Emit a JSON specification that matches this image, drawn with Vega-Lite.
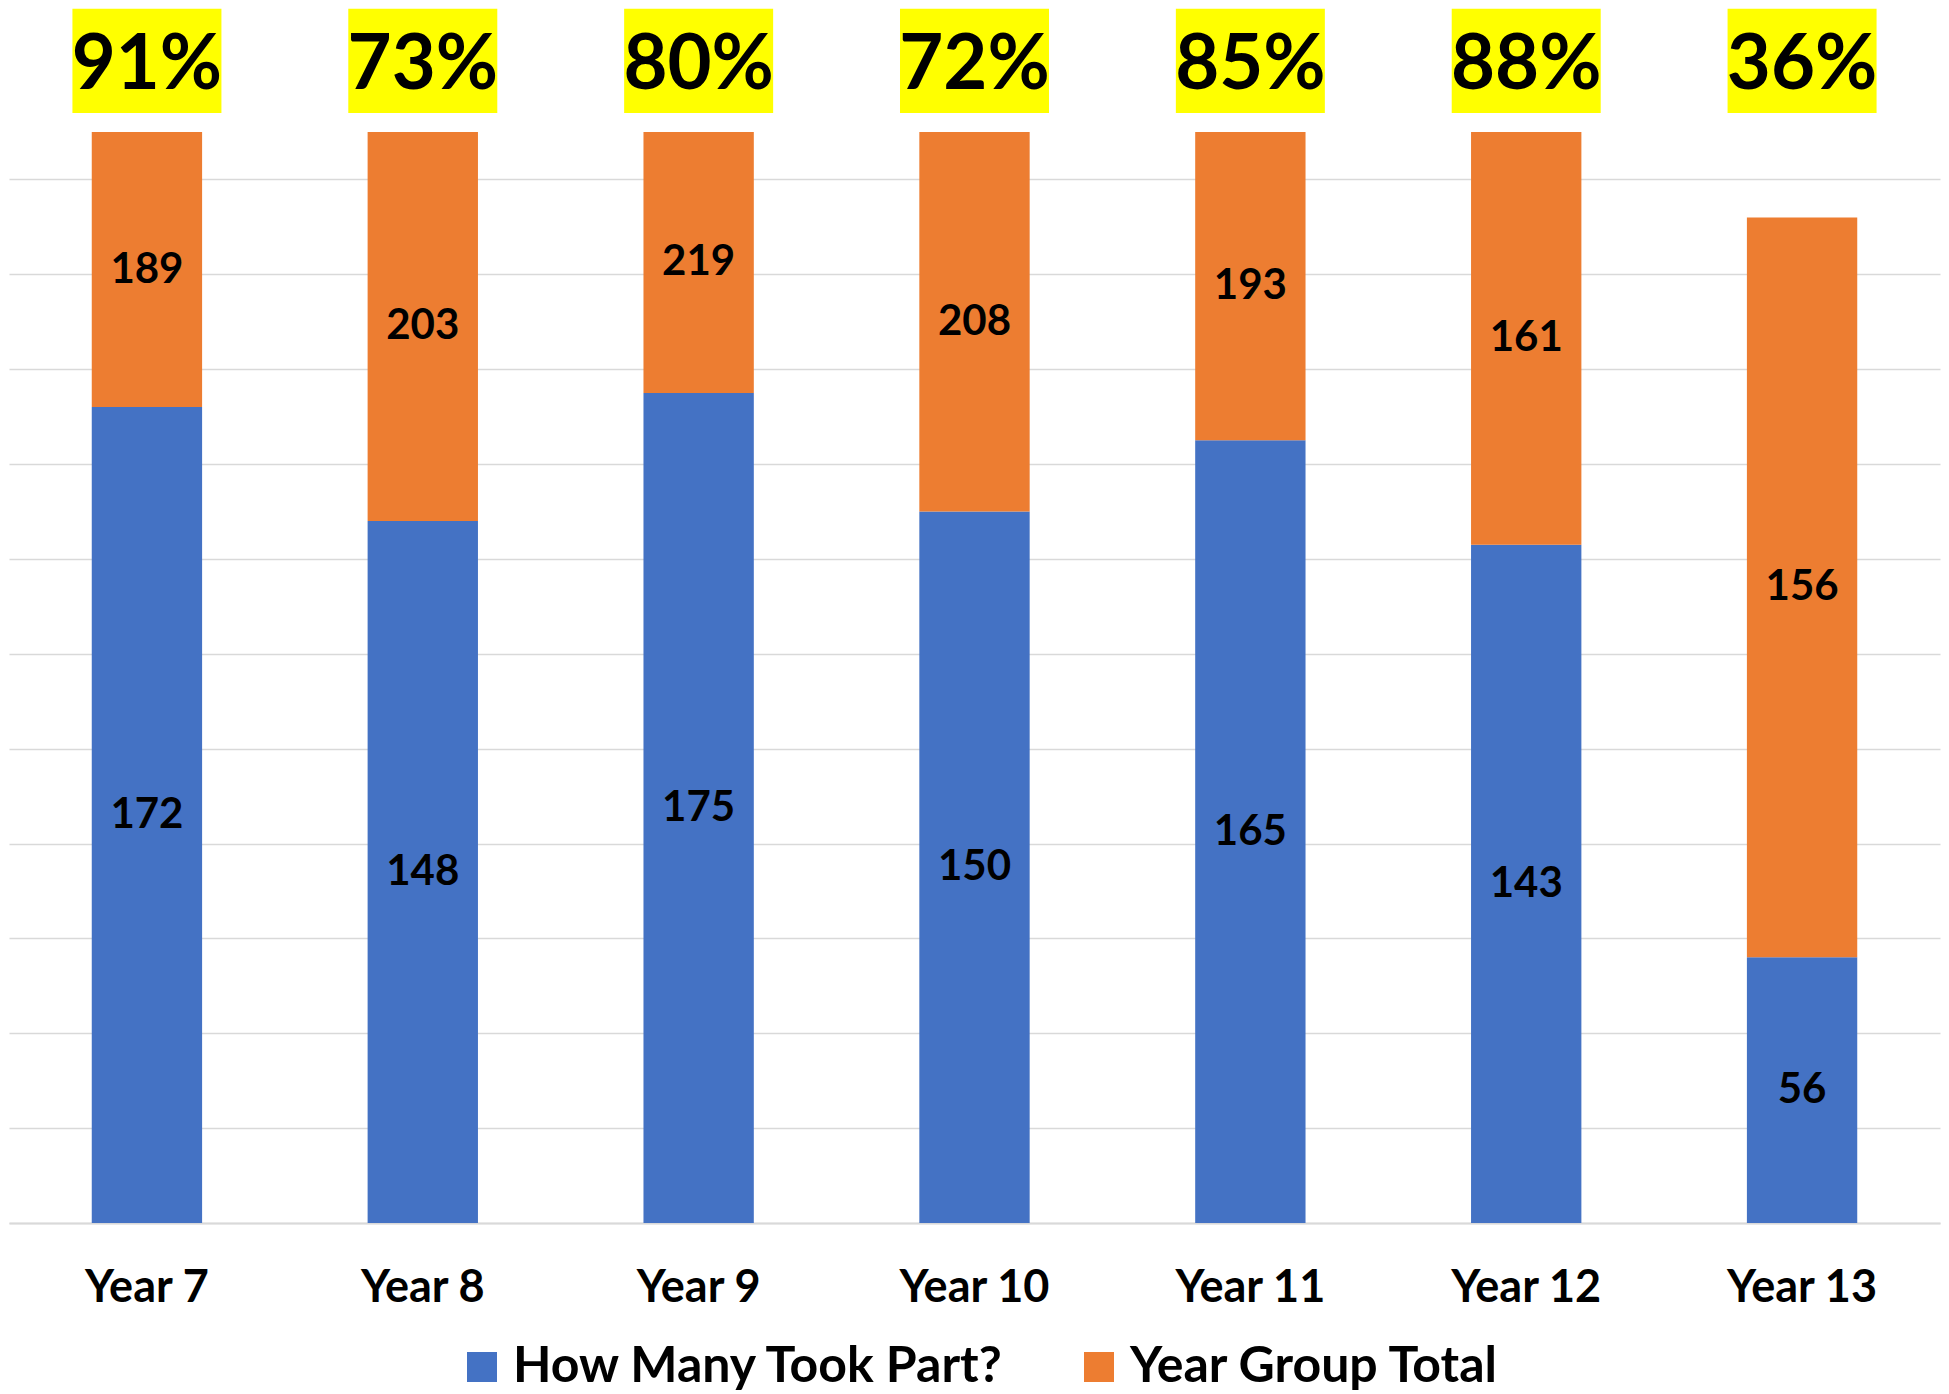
{
  "$schema": "https://vega.github.io/schema/vega-lite/v6.json",
  "autosize": "none",
  "width": 1931,
  "height": 1091,
  "padding": {"left": 9, "top": 132, "right": 9, "bottom": 171},
  "background": "white",
  "config": {
    "font": "Lato",
    "view": {"stroke": null}
  },
  "datasets": {
    "bars": [
      {"year": "Year 7", "series": "How Many Took Part?", "count": 172},
      {"year": "Year 7", "series": "Year Group Total", "count": 189},
      {"year": "Year 8", "series": "How Many Took Part?", "count": 148},
      {"year": "Year 8", "series": "Year Group Total", "count": 203},
      {"year": "Year 9", "series": "How Many Took Part?", "count": 175},
      {"year": "Year 9", "series": "Year Group Total", "count": 219},
      {"year": "Year 10", "series": "How Many Took Part?", "count": 150},
      {"year": "Year 10", "series": "Year Group Total", "count": 208},
      {"year": "Year 11", "series": "How Many Took Part?", "count": 165},
      {"year": "Year 11", "series": "Year Group Total", "count": 193},
      {"year": "Year 12", "series": "How Many Took Part?", "count": 143},
      {"year": "Year 12", "series": "Year Group Total", "count": 161},
      {"year": "Year 13", "series": "How Many Took Part?", "count": 56},
      {"year": "Year 13", "series": "Year Group Total", "count": 156}
    ],
    "pct": [
      {"year": "Year 7", "pct": "91%"},
      {"year": "Year 8", "pct": "73%"},
      {"year": "Year 9", "pct": "80%"},
      {"year": "Year 10", "pct": "72%"},
      {"year": "Year 11", "pct": "85%"},
      {"year": "Year 12", "pct": "88%"},
      {"year": "Year 13", "pct": "36%"}
    ]
  },
  "encoding": {
    "x": {
      "field": "year",
      "type": "nominal",
      "sort": ["Year 7", "Year 8", "Year 9", "Year 10", "Year 11", "Year 12", "Year 13"],
      "scale": {"paddingInner": 0.6, "paddingOuter": 0.3},
      "axis": {
        "title": null,
        "labelAngle": 0,
        "labelFontSize": 45,
        "labelFontWeight": "bold",
        "labelColor": "#000000",
        "labelPadding": 42,
        "ticks": false,
        "tickSize": 0,
        "domain": true,
        "domainColor": "#D9D9D9",
        "domainWidth": 2,
        "grid": false
      }
    }
  },
  "layer": [
    {
      "data": {"name": "bars"},
      "layer": [
        {
          "mark": {"type": "bar"},
          "encoding": {
            "y": {
              "field": "count",
              "type": "quantitative",
              "stack": "zero",
              "scale": {"domain": [0, 230], "nice": false, "clamp": true},
              "axis": {
                "title": null,
                "labels": false,
                "ticks": false,
                "domain": false,
                "grid": true,
                "gridColor": "#D9D9D9",
                "gridWidth": 1.6,
                "values": [0, 20, 40, 60, 80, 100, 120, 140, 160, 180, 200, 220]
              }
            },
            "order": {"field": "series", "type": "ordinal", "sort": "ascending"},
            "color": {
              "field": "series",
              "type": "nominal",
              "scale": {"domain": ["How Many Took Part?", "Year Group Total"], "range": ["#4472C4", "#ED7D31"]},
              "legend": {
                "title": null,
                "orient": "none",
                "direction": "horizontal",
                "legendX": 448,
                "legendY": 1210,
                "symbolType": "square",
                "symbolSize": 900,
                "symbolStrokeWidth": 0,
                "labelFontSize": 50,
                "labelFontWeight": "bold",
                "labelColor": "#000000",
                "labelOffset": 6,
                "columnPadding": 68,
                "labelLimit": 1000
              }
            }
          }
        },
        {
          "transform": [
            {"stack": "count", "groupby": ["year"], "sort": [{"field": "series", "order": "ascending"}], "as": ["seg_start", "seg_end"]},
            {"calculate": "(datum.seg_start + min(datum.seg_end, 230)) / 2", "as": "label_mid"}
          ],
          "mark": {"type": "text", "fontSize": 42, "fontWeight": "bold", "color": "#000000", "baseline": "middle", "align": "center"},
          "encoding": {
            "y": {"field": "label_mid", "type": "quantitative"},
            "text": {"field": "count", "type": "quantitative"}
          }
        }
      ]
    },
    {
      "data": {"name": "pct"},
      "layer": [
        {
          "mark": {"type": "bar", "color": "#FFFF00", "width": 149},
          "encoding": {
            "y": {"datum": 234, "type": "quantitative", "scale": {"domain": [0, 230], "nice": false}, "axis": null},
            "y2": {"datum": 256}
          }
        },
        {
          "mark": {"type": "text", "fontSize": 76, "fontWeight": "bold", "color": "#000000", "baseline": "middle", "align": "center"},
          "encoding": {
            "y": {"datum": 243.9, "type": "quantitative"},
            "text": {"field": "pct", "type": "nominal"}
          }
        }
      ]
    }
  ],
  "resolve": {"scale": {"y": "independent"}}
}
